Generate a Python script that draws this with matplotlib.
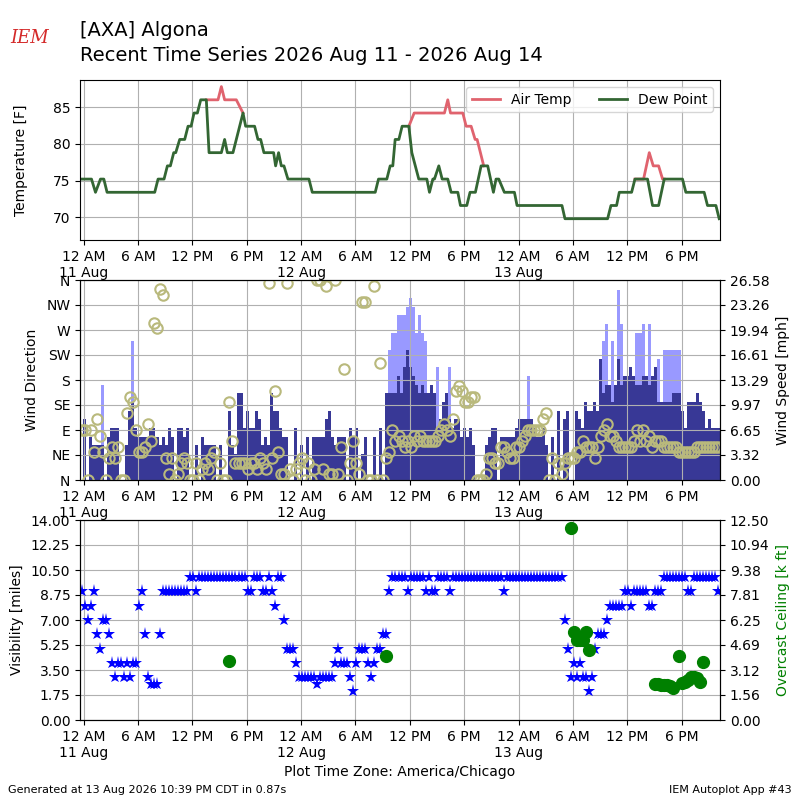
import numpy as np
import pandas as pd
import matplotlib
matplotlib.use("Agg")
import matplotlib.pyplot as plt

KT2MPH = 1.15078

# observations every 20 minutes, Aug 10 23:45 -> Aug 13 22:05 CDT
obs_time = pd.date_range("2026-08-10 23:45", periods=212, freq="20min")
obs_hr = ((obs_time - pd.Timestamp("2026-08-11")) / pd.Timedelta(hours=1)).to_numpy()

# temperature traces (hours since 11 Aug 00:00, deg F)
dew_h = [-0.42, 0.85, 1.29, 1.84, 2.21, 2.57, 7.83, 8.2, 8.86, 9.23, 9.56, 9.93,
         10.15, 10.59, 11.14, 11.51, 11.85, 12.17, 12.54, 12.91, 13.53, 13.83,
         15.19, 15.55, 15.85, 16.47, 17.58, 17.87, 18.86, 19.23, 19.53, 19.89,
         20.96, 21.18, 21.51, 21.81, 22.1, 22.54, 24.86, 25.23, 32.18, 32.54,
         33.46, 33.83, 34.12, 34.38, 34.79, 35.15, 35.89, 36.22, 36.99, 37.88,
         38.17, 38.54, 38.72, 39.2, 39.57, 40.19, 40.56, 41.3, 41.59, 42.29,
         42.65, 43.24, 43.87, 44.6, 45.23, 45.52, 45.82, 46.44, 47.55, 47.84,
         52.8, 53.13, 57.84, 58.21, 58.83, 59.13, 60.49, 60.86, 62.25, 62.8,
         63.47, 64.09, 66.11, 66.48, 68.5, 68.87, 69.8, 70.16]
dew_t = [75.2, 75.2, 73.4, 75.2, 75.2, 73.4, 73.4, 75.2, 75.2, 77, 77, 78.8,
         78.8, 80.6, 80.6, 82.4, 82.4, 84.2, 84.2, 86, 86, 78.8,
         78.8, 80.6, 78.8, 78.8, 84.2, 82.4, 82.4, 80.6, 80.6, 78.8,
         78.8, 77, 78.8, 77, 77, 75.2, 75.2, 73.4, 73.4, 75.2,
         75.2, 77, 77, 80.6, 80.6, 82.4, 82.4, 78.8, 75.2, 75.2,
         73.4, 75.2, 75.2, 77, 75.2, 75.2, 73.4, 73.4, 71.6, 71.6,
         73.4, 73.4, 77, 77, 73.4, 75.2, 75.2, 73.4, 73.4, 71.6,
         71.6, 69.8, 69.8, 71.6, 71.6, 73.4, 73.4, 75.2, 75.2, 71.6,
         71.6, 75.2, 75.2, 73.4, 73.4, 71.6, 71.6, 69.8]
# air temp only where it departs from the dew point
air_h = [13.53, 14.82, 15.19, 15.55, 16.84, 17.58, np.nan,
         35.89, 36.48, 39.82, 40.19, 40.49, 41.85, 42.22, 42.77, 43.21, 43.43, 44.16, np.nan,
         60.86, 61.81, 62.44, 62.88, 63.47, 63.91, 64.09]
air_t = [86, 86, 87.8, 86, 86, 84.2, np.nan,
         82.4, 84.2, 84.2, 86, 84.2, 84.2, 82.4, 82.4, 80.6, 80.6, 77, np.nan,
         75.2, 75.2, 78.8, 77, 77, 75.2, 75.2]

# wind speed / gust [kt], direction [deg]
sknt = [0, 7, 0, 5, 4, 4, 4, 4, 0, 5, 6, 6,
        6, 0, 0, 4, 8, 9, 6, 5, 5, 5, 5, 6,
        6, 5, 4, 5, 4, 6, 5, 0, 6, 6, 5, 6,
        0, 0, 4, 0, 5, 4, 4, 4, 4, 0, 4, 0,
        0, 8, 4, 3, 10, 10, 6, 8, 6, 6, 8, 7,
        4, 5, 4, 10, 8, 8, 6, 5, 5, 0, 0, 6,
        0, 4, 0, 5, 0, 5, 5, 5, 5, 7, 8, 5,
        4, 5, 5, 5, 0, 6, 5, 6, 0, 3, 5, 0,
        0, 5, 0, 6, 0, 10, 10, 10, 10, 12, 10, 13,
        15, 13, 12, 11, 10, 11, 10, 10, 11, 10, 6, 7,
        9, 10, 7, 6, 7, 7, 5, 6, 5, 6, 4, 0,
        0, 0, 4, 5, 6, 6, 0, 5, 5, 5, 5, 5,
        6, 7, 7, 7, 7, 7, 6, 5, 5, 6, 4, 0,
        5, 0, 8, 0, 7, 8, 0, 0, 8, 7, 6, 9,
        8, 8, 9, 8, 14, 10, 11, 11, 9, 11, 14, 11,
        12, 12, 13, 12, 11, 11, 12, 12, 11, 12, 13, 9,
        9, 9, 9, 9, 10, 10, 10, 8, 6, 9, 9, 9,
        10, 9, 8, 6, 7, 6, 6, 6]
gust = [0, 0, 0, 0, 0, 0, 0, 11, 0, 0, 0, 0,
        0, 0, 0, 0, 0, 16, 0, 0, 0, 0, 0, 0,
        0, 0, 0, 0, 0, 0, 0, 0, 0, 0, 0, 0,
        0, 0, 0, 0, 0, 0, 0, 0, 0, 0, 0, 0,
        0, 0, 0, 0, 0, 0, 0, 0, 0, 0, 0, 0,
        0, 0, 0, 0, 0, 0, 0, 0, 0, 0, 0, 0,
        0, 0, 0, 0, 0, 0, 0, 0, 0, 0, 0, 0,
        0, 0, 0, 0, 0, 0, 0, 0, 0, 0, 0, 0,
        0, 0, 0, 0, 0, 0, 15, 17, 17, 19, 19, 19,
        20, 21, 20, 17, 19, 17, 16, 0, 0, 0, 13, 0,
        0, 0, 13, 0, 0, 0, 0, 0, 0, 0, 0, 0,
        0, 0, 0, 0, 0, 0, 0, 0, 0, 0, 0, 0,
        0, 0, 0, 0, 12, 0, 0, 0, 0, 0, 0, 0,
        0, 0, 0, 0, 0, 0, 0, 0, 0, 0, 0, 0,
        0, 0, 0, 0, 0, 16, 18, 0, 16, 0, 22, 18,
        0, 0, 0, 0, 17, 17, 18, 0, 18, 0, 0, 14,
        0, 15, 15, 15, 15, 15, 15, 0, 0, 0, 0, 0,
        0, 0, 0, 0, 0, 0, 0, 0]
drct = [90, 90, 0, 90, 50, 110, 80, 50, 0, 40, 60, 40,
        60, 0, 0, 120, 150, 140, 90, 50, 50, 60, 100, 70,
        283, 274, 343, 333, 40, 10, 40, 0, 10, 30, 40, 30,
        0, 0, 30, 0, 20, 30, 20, 40, 50, 0, 30, 0,
        0, 140, 70, 30, 30, 30, 30, 20, 30, 30, 20, 40,
        30, 20, 355, 40, 160, 50, 10, 10, 355, 20, 0, 20,
        30, 40, 0, 30, 0, 20, 360, 360, 20, 350, 10, 10,
        360, 10, 60, 200, 0, 30, 70, 30, 10, 320, 320, 0,
        0, 350, 0, 210, 0, 40, 50, 90, 70, 80, 70, 60,
        70, 60, 80, 70, 80, 70, 70, 70, 70, 70, 80, 90,
        100, 90, 80, 110, 160, 170, 160, 140, 140, 150, 150, 0,
        0, 0, 10, 40, 40, 30, 30, 60, 60, 50, 40, 40,
        60, 60, 70, 80, 90, 90, 90, 90, 90, 110, 120, 0,
        40, 0, 30, 10, 30, 40, 40, 40, 50, 50, 70, 60,
        60, 60, 40, 60, 80, 90, 100, 80, 80, 70, 60, 60,
        60, 60, 60, 70, 90, 70, 90, 70, 80, 60, 70, 70,
        70, 60, 60, 60, 60, 60, 50, 50, 50, 50, 50, 50,
        60, 60, 60, 60, 60, 60, 60, 60]

# visibility [miles]
vsby = [9, 8, 7, 8, 9, 6, 5, 7, 7, 6, 4, 3,
        4, 4, 3, 4, 3, 4, 4, 8, 9, 6, 3, 2.5,
        2.5, 2.5, 6, 9, 9, 9, 9, 9, 9, 9, 9, 9,
        10, 10, 9, 10, 10, 10, 10, 10, 10, 10, 10, 10,
        10, 10, 10, 10, 10, 10, 10, 9, 9, 10, 10, 10,
        9, 9, 10, 9, 8, 10, 10, 7, 5, 5, 5, 4,
        3, 3, 3, 3, 3, 3, 2.5, 3, 3, 3, 3, 3,
        4, 5, 4, 4, 4, 3, 2, 4, 5, 5, 5, 4,
        3, 4, 5, 5, 6, 6, 9, 10, 10, 10, 10, 10,
        9, 10, 10, 10, 10, 10, 9, 10, 9, 9, 10, 10,
        10, 10, 9, 10, 10, 10, 10, 10, 10, 10, 10, 10,
        10, 10, 10, 10, 10, 10, 10, 10, 9, 10, 10, 10,
        10, 10, 10, 10, 10, 10, 10, 10, 10, 10, 10, 10,
        10, 10, 10, 10, 7, 5, 3, 4, 3, 4, 3, 3,
        2, 3, 5, 6, 6, 6, 7, 8, 8, 8, 8, 8,
        9, 9, 8, 9, 9, 9, 9, 9, 8, 8, 9, 9,
        9, 10, 10, 10, 10, 10, 10, 10, 10, 9, 9, 10,
        10, 10, 10, 10, 10, 10, 10, 9]

# overcast ceiling [k ft]
ceil_h = [16.08, 33.42, 53.75, 54.08, 54.42, 54.75, 55.08, 55.42, 55.75,
          63.08, 63.42, 63.75, 64.08, 64.42, 64.75, 65.08, 65.75, 66.08,
          66.42, 66.75, 67.08, 67.42, 67.75, 68.08, 68.42]
ceil_k = [3.7, 4.0, 12.0, 5.5, 5.0, 5.0, 5.0, 5.5, 4.4,
          2.25, 2.25, 2.2, 2.2, 2.2, 2.15, 2.0, 4.0, 2.3,
          2.35, 2.5, 2.7, 2.7, 2.6, 2.35, 3.65]

tick_hr = list(range(0, 67, 6))
tick_lbl = ["12 AM\n11 Aug", "6 AM", "12 PM", "6 PM",
            "12 AM\n12 Aug", "6 AM", "12 PM", "6 PM",
            "12 AM\n13 Aug", "6 AM", "12 PM", "6 PM"]
xlim = (-0.42, 70.25)

fig = plt.figure(figsize=(8, 8), dpi=100)

fig.text(0.1, 0.962, "[AXA] Algona", fontsize=14, va="center")
fig.text(0.1, 0.931, "Recent Time Series 2026 Aug 11 - 2026 Aug 14", fontsize=14, va="center")
fig.text(0.037, 0.953, "IEM", fontsize=13, color="#d42a2a", style="italic",
         family="serif", ha="center", va="center")
fig.text(0.01, 0.0125, "Generated at 13 Aug 2026 10:39 PM CDT in 0.87s", fontsize=8, va="center")
fig.text(0.99, 0.0125, "IEM Autoplot App #43", fontsize=8, ha="right", va="center")

# temperature
ax1 = fig.add_axes([0.1, 0.7, 0.8, 0.2])
ax1.plot(air_h, air_t, color="#e0636e", lw=2, label="Air Temp")
ax1.plot(dew_h, dew_t, color="#336633", lw=2, label="Dew Point")
ax1.set_ylim(66.9, 88.7)
ax1.set_yticks([70, 75, 80, 85])
ax1.set_ylabel("Temperature [F]")
ax1.yaxis.set_label_coords(-0.081, 0.5)
ax1.legend(loc="upper right", ncol=2)

# wind: bars on the main axes, direction circles on a twin drawn above
speed_mph = np.array(sknt) * KT2MPH
gust_mph = np.array(gust) * KT2MPH
smax = gust_mph.max() * 1.05
ax2 = fig.add_axes([0.1, 0.4, 0.8, 0.25])
ax2.bar(obs_hr, gust_mph, width=1 / 3., color="#9999ff", lw=0)
ax2.bar(obs_hr, speed_mph, width=1 / 3., color="#383896", lw=0)
ax2d = ax2.twinx()
ax2d.plot(obs_hr, drct, "o", mfc="none", mec="#b9b97c", ms=7.5, mew=1.5)
ax2d.set_ylim(0, 360)
ax2d.set_yticks(range(0, 361, 45))
ax2d.set_yticklabels(["N", "NE", "E", "SE", "S", "SW", "W", "NW", "N"])
ax2d.yaxis.tick_left()
ax2d.yaxis.set_label_position("left")
ax2d.set_ylabel("Wind Direction")
ax2d.yaxis.set_label_coords(-0.064, 0.5)

ax2.set_ylim(0, smax)
ax2.set_yticks(np.linspace(0, smax, 9))
ax2.set_yticklabels(["%.2f" % v for v in np.linspace(0, smax, 9)])
ax2.yaxis.tick_right()
ax2.yaxis.set_label_position("right")
ax2.set_ylabel("Wind Speed [mph]")
ax2.yaxis.set_label_coords(1.0875, 0.5)

# visibility / ceiling
ax3 = fig.add_axes([0.1, 0.1, 0.8, 0.25])
ax3.plot(obs_hr, vsby, "*", color="b", ms=9.5, mew=0)
ax3.set_ylim(0, 14)
ax3.set_yticks(np.linspace(0, 14, 9))
ax3.set_yticklabels(["%.2f" % v for v in np.linspace(0, 14, 9)])
ax3.set_ylabel("Visibility [miles]")
ax3.yaxis.set_label_coords(-0.0875, 0.5)
ax3.set_xlabel("Plot Time Zone: America/Chicago")
ax3c = ax3.twinx()
ax3c.plot(ceil_h, ceil_k, "o", color="g", ms=8.5)
ax3c.set_ylim(0, 12.5)
ax3c.set_yticks(np.linspace(0, 12.5, 9))
ax3c.set_yticklabels(["%.2f" % v for v in np.linspace(0, 12.5, 9)])
ax3c.set_ylabel("Overcast Ceiling [k ft]", color="g")
ax3c.yaxis.set_label_coords(1.0875, 0.5)

for ax in (ax1, ax2, ax3, ax2d, ax3c):
    ax.set_xlim(*xlim)
for ax in (ax1, ax2, ax3):
    ax.set_xticks(tick_hr)
    ax.set_xticklabels(tick_lbl)
    ax.grid(True)

fig.savefig("out.png", dpi=100)
